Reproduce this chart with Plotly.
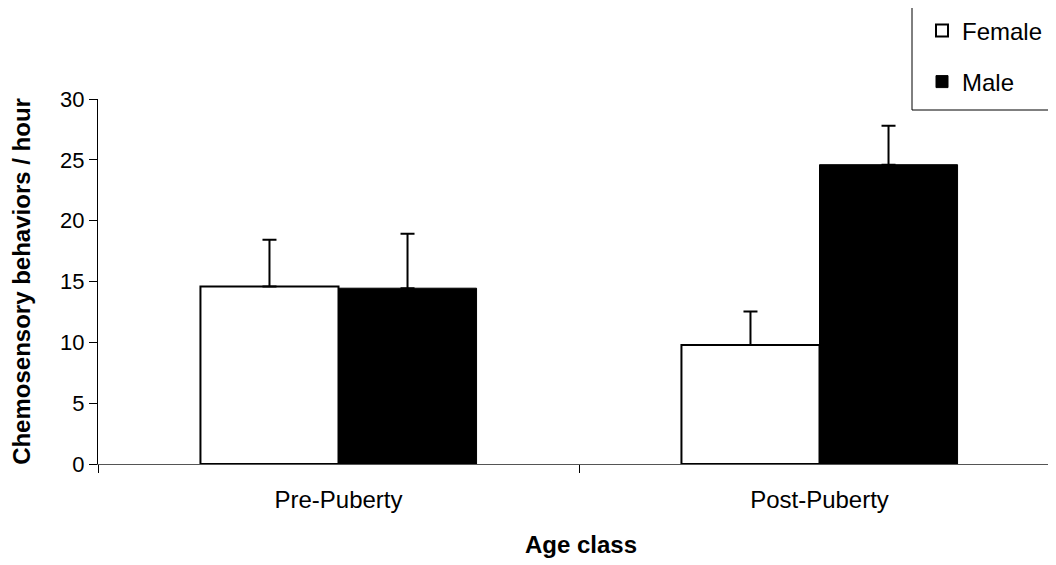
import plotly.graph_objects as go

categories = ["Pre-Puberty", "Post-Puberty"]
female = [14.58, 9.79]
female_err = [3.85, 2.74]
male = [14.45, 24.6]
male_err = [4.47, 3.2]
y_ticks = [0, 5, 10, 15, 20, 25, 30]

# page body has an 8px default margin; compensate so the plot lands where the reference has it
OFF = 8
W, H = 1056, 565
L, T = 98 - OFF, 99 - OFF
R = 0
ph = 365
B = H - T - ph
pw = W - L - R

def px(x):  # window x -> paper x
    return (x - OFF - L) / pw

def py(y):  # window y -> paper y
    return (T + ph - (y - OFF)) / ph

fig = go.Figure()
fig.add_trace(go.Bar(
    x=categories, y=female, name="Female",
    marker=dict(color="white", line=dict(color="black", width=2)),
    error_y=dict(type="data", array=female_err, arrayminus=[0, 0], symmetric=False,
                 color="black", thickness=2, width=7),
    legend="legend",
))
fig.add_trace(go.Bar(
    x=categories, y=male, name="Male",
    marker=dict(color="black", line=dict(color="black", width=1)),
    error_y=dict(type="data", array=male_err, arrayminus=[0, 0], symmetric=False,
                 color="black", thickness=2, width=7),
    legend="legend2",
))

font = "Liberation Sans, Arial, sans-serif"
legend_common = dict(font=dict(family=font, size=24, color="black"),
                     bgcolor="rgba(0,0,0,0)", borderwidth=0,
                     xanchor="left", yanchor="middle")

fig.update_layout(
    width=W, height=H,
    margin=dict(l=L, r=R, t=T, b=B, pad=0),
    paper_bgcolor="white", plot_bgcolor="white",
    barmode="group", bargap=0.426, bargroupgap=0,
    font=dict(family=font, size=24, color="black"),
    showlegend=True,
    legend=dict(x=px(922), y=py(31), **legend_common),
    legend2=dict(x=px(922), y=py(82), **legend_common),
    xaxis=dict(
        range=[-0.5, -0.5 + pw / 481], tickson="boundaries",
        ticks="outside", ticklen=8, tickcolor="black", tickwidth=1,
        showline=True, linecolor="#555555", linewidth=1,
        showgrid=False, zeroline=False, ticklabelstandoff=14,
        tickfont=dict(size=24),
        title=dict(text="<b>Age class</b>", font=dict(size=24), standoff=24),
    ),
    yaxis=dict(
        range=[0, 30], tickvals=y_ticks,
        ticks="outside", ticklen=8, tickcolor="black", tickwidth=1,
        showline=True, linecolor="black", linewidth=1,
        showgrid=False, zeroline=False,
        tickfont=dict(size=22),
        title=dict(text="<b>Chemosensory behaviors / hour</b>", font=dict(size=24), standoff=23),
    ),
    shapes=[dict(type="rect", xref="paper", yref="paper",
                 x0=px(912), x1=px(1075), y0=py(110), y1=py(7),
                 line=dict(color="black", width=1), fillcolor="rgba(0,0,0,0)",
                 layer="below")],
)

fig.write_html("out.html")
